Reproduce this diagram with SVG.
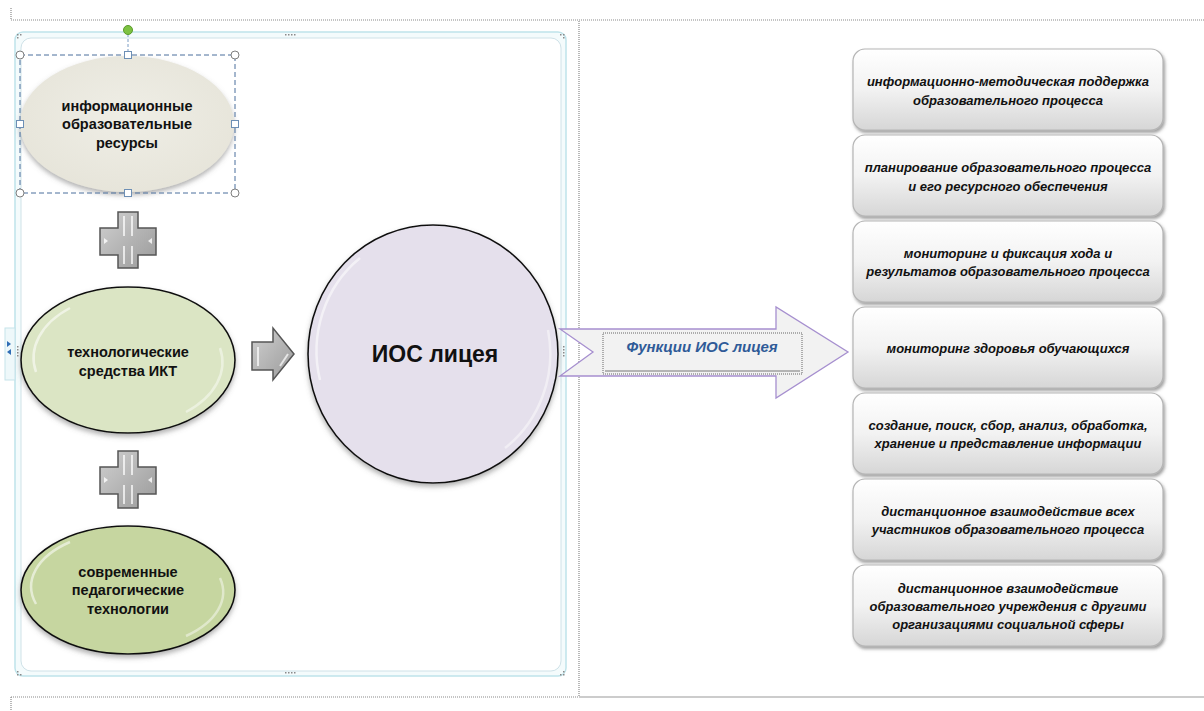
<svg xmlns="http://www.w3.org/2000/svg" width="1204" height="711" viewBox="0 0 1204 711">
<defs>
<style>
.dot{stroke:#8a8a8a;stroke-width:1.2;stroke-dasharray:1 1;fill:none}
.et{font-family:"Liberation Sans",Arial,sans-serif;font-weight:bold;font-size:14.5px;fill:#111;text-anchor:middle}
.bt{font-family:"Liberation Sans",Arial,sans-serif;font-weight:bold;font-style:italic;font-size:13px;fill:#111;text-anchor:middle}
.box{fill:url(#gBox);stroke:#b5b5b5;stroke-width:1.2;filter:url(#sh)}
.plus{fill:url(#gPlus);stroke:#555;stroke-width:1.5}
.hl{fill:none;stroke:#fff;stroke-width:2;opacity:.7}
.hdl{fill:#fff;stroke:#7f7f7f;stroke-width:1}
.sq{fill:#fff;stroke:#6d8fb5;stroke-width:1}
</style>
<linearGradient id="gBox" x1="0" y1="0" x2="0" y2="1">
<stop offset="0" stop-color="#ffffff"/><stop offset="0.5" stop-color="#f2f2f2"/><stop offset="1" stop-color="#d6d6d6"/>
</linearGradient>
<linearGradient id="gPlus" x1="0" y1="0" x2="1" y2="1">
<stop offset="0" stop-color="#d0d0d0"/><stop offset="1" stop-color="#9a9a9a"/>
</linearGradient>
<radialGradient id="gE1" cx="0.5" cy="0.45" r="0.6">
<stop offset="0" stop-color="#efeee6"/><stop offset="1" stop-color="#e6e4d9"/>
</radialGradient>
<filter id="sh" x="-10%" y="-10%" width="125%" height="130%">
<feDropShadow dx="1.5" dy="2.5" stdDeviation="1.8" flood-color="#555" flood-opacity="0.55"/>
</filter>
<filter id="sh2" x="-10%" y="-10%" width="125%" height="130%">
<feDropShadow dx="0" dy="3" stdDeviation="2.5" flood-color="#666" flood-opacity="0.5"/>
</filter>
</defs>
<rect x="0" y="0" width="1204" height="711" fill="#fff"/>

<!-- page guide lines -->
<g id="page">
<line class="dot" x1="11" y1="20" x2="1204" y2="20"/>
<line class="dot" x1="11" y1="8" x2="11" y2="20"/>
<line class="dot" x1="579" y1="21" x2="579" y2="697"/>
<line class="dot" x1="11" y1="697" x2="579" y2="697"/>
<line x1="579" y1="697" x2="1204" y2="697" stroke="#9a9a9a" stroke-width="1.2"/>
<line class="dot" x1="11" y1="697" x2="11" y2="711"/>
</g>

<!-- SmartArt frame -->
<g id="frame">
<rect x="15" y="32" width="551" height="644" rx="8" fill="#f4fbfc" stroke="#bfe3ea" stroke-width="1.5"/>
<rect x="21" y="38" width="540" height="633" rx="10" fill="#fff" stroke="#cfe2e8" stroke-width="1"/>
<g fill="#8a8a8a">
<rect x="285" y="34" width="1.5" height="1.5"/><rect x="288" y="34" width="1.5" height="1.5"/><rect x="291" y="34" width="1.5" height="1.5"/><rect x="294" y="34" width="1.5" height="1.5"/>
<rect x="285" y="672" width="1.5" height="1.5"/><rect x="288" y="672" width="1.5" height="1.5"/><rect x="291" y="672" width="1.5" height="1.5"/><rect x="294" y="672" width="1.5" height="1.5"/>
<rect x="17" y="34" width="1.5" height="1.5"/><rect x="20" y="34" width="1.5" height="1.5"/><rect x="17" y="37" width="1.5" height="1.5"/>
<rect x="560" y="34" width="1.5" height="1.5"/><rect x="563" y="34" width="1.5" height="1.5"/><rect x="563" y="37" width="1.5" height="1.5"/>
<rect x="17" y="671" width="1.5" height="1.5"/><rect x="17" y="674" width="1.5" height="1.5"/><rect x="20" y="674" width="1.5" height="1.5"/>
<rect x="563" y="671" width="1.5" height="1.5"/><rect x="560" y="674" width="1.5" height="1.5"/><rect x="563" y="674" width="1.5" height="1.5"/>
<rect x="563" y="346" width="1.5" height="1.5"/><rect x="563" y="349" width="1.5" height="1.5"/><rect x="563" y="352" width="1.5" height="1.5"/><rect x="563" y="355" width="1.5" height="1.5"/>
<rect x="17" y="346" width="1.5" height="1.5"/><rect x="17" y="349" width="1.5" height="1.5"/><rect x="17" y="352" width="1.5" height="1.5"/><rect x="17" y="355" width="1.5" height="1.5"/>
</g>
<rect x="5" y="328" width="10" height="52" fill="#eef8fa" stroke="#c6e3ea" stroke-width="1"/>
<polygon points="7,341 11,344 7,347" fill="#2f6db5"/>
<polygon points="11,349 7,352 11,355" fill="#2f6db5"/>
</g>

<!-- node 1 -->
<g id="node-resources">
<ellipse cx="127" cy="124" rx="107" ry="68" fill="url(#gE1)" filter="url(#sh2)"/>
<text class="et" x="127" y="111">информационные</text>
<text class="et" x="127" y="129">образовательные</text>
<text class="et" x="127" y="148">ресурсы</text>
<!-- selection -->
<rect x="20" y="55" width="215" height="138" fill="none" stroke="#4a6f9c" stroke-width="1" stroke-dasharray="5 3"/>
<line x1="128" y1="34" x2="128" y2="55" stroke="#7a9cc4" stroke-width="1" stroke-dasharray="3 2"/>
<circle cx="128" cy="30" r="4.5" fill="#7dc242" stroke="#5a9a2a" stroke-width="1"/>
<circle class="hdl" cx="20" cy="55" r="4"/><circle class="hdl" cx="235" cy="55" r="4"/>
<circle class="hdl" cx="20" cy="193" r="4"/><circle class="hdl" cx="235" cy="193" r="4"/>
<rect class="sq" x="124.5" y="51.5" width="7" height="7"/><rect class="sq" x="124.5" y="189.5" width="7" height="7"/>
<rect class="sq" x="16.5" y="120.5" width="7" height="7"/><rect class="sq" x="231.5" y="120.5" width="7" height="7"/>
</g>

<!-- plus 1 -->
<g id="plus-1">
<path class="plus" d="M118,212 H138 V228 H156 V255 H138 V268 H118 V255 H100 V228 H118 Z"/>
<path class="hl" d="M124,216 V236 M124,246 V264 M132,216 V236 M132,246 V264"/>
<polygon points="104,238 108,241 104,244" fill="#fff" opacity=".8"/>
<polygon points="152,238 148,241 152,244" fill="#fff" opacity=".8"/>
</g>

<!-- node 2 -->
<g id="node-ict">
<ellipse cx="128" cy="360" rx="107" ry="73" fill="#dbe5c4" stroke="#111" stroke-width="1.6" filter="url(#sh2)"/>
<path d="M36,372 A98,64 0 0 1 70,308" fill="none" stroke="#fff" stroke-width="2.5" opacity=".55"/>
<path d="M220,348 A98,64 0 0 1 186,412" fill="none" stroke="#fff" stroke-width="2.5" opacity=".45"/>
<text class="et" x="128" y="357">технологические</text>
<text class="et" x="128" y="376">средства ИКТ</text>
</g>

<!-- plus 2 -->
<g id="plus-2">
<path class="plus" d="M118,451 H138 V467 H156 V494 H138 V508 H118 V494 H100 V467 H118 Z"/>
<path class="hl" d="M124,455 V475 M124,485 V504 M132,455 V475 M132,485 V504"/>
<polygon points="104,477 108,480 104,483" fill="#fff" opacity=".8"/>
<polygon points="152,477 148,480 152,483" fill="#fff" opacity=".8"/>
</g>

<!-- node 3 -->
<g id="node-pedtech">
<ellipse cx="128" cy="590" rx="107" ry="64" fill="#c6d6a0" stroke="#111" stroke-width="1.6" filter="url(#sh2)"/>
<path d="M36,604 A98,56 0 0 1 70,542" fill="none" stroke="#fff" stroke-width="2.5" opacity=".55"/>
<path d="M220,578 A98,56 0 0 1 186,636" fill="none" stroke="#fff" stroke-width="2.5" opacity=".45"/>
<text class="et" x="128" y="577">современные</text>
<text class="et" x="128" y="595">педагогические</text>
<text class="et" x="128" y="614">технологии</text>
</g>

<!-- connectors -->
<g id="connectors">
<g id="arrow-small">
<path d="M252,342 H273 V328 L294,354 L273,380 V370 H252 Z" fill="url(#gPlus)" stroke="#555" stroke-width="1.5"/>
<path d="M258,347 V366" stroke="#fff" stroke-width="2" opacity=".7"/>
<path d="M288,354 L280,366" stroke="#fff" stroke-width="2" opacity=".7"/>
</g>
<g id="arrow-big">
<path d="M560,329 H776 V307 L848,352 L776,398 V376 H560 L593,352 Z" fill="#f2f2f2" stroke="#a68fcf" stroke-width="1.3"/>
</g>
</g>

<!-- central node -->
<g id="node-ios">
<ellipse cx="433" cy="354" rx="125" ry="129" fill="#e5e0ec" stroke="#111" stroke-width="1.6" filter="url(#sh2)"/>
<path d="M320,380 A113,118 0 0 1 360,258" fill="none" stroke="#fff" stroke-width="2.5" opacity=".55"/>
<path d="M548,330 A113,118 0 0 1 505,448" fill="none" stroke="#fff" stroke-width="2.5" opacity=".45"/>
<text x="435" y="362" font-family="'Liberation Sans',Arial,sans-serif" font-weight="bold" font-size="23" fill="#111" text-anchor="middle">ИОС лицея</text>
</g>

<!-- label box on arrow -->
<g id="label-functions">
<rect x="603" y="333" width="199" height="41" fill="#f2f2f2" stroke="#666" stroke-width="1" stroke-dasharray="1 1"/>
<line x1="605" y1="371" x2="800" y2="371" stroke="#777" stroke-width="1"/>
<text x="702" y="352" font-family="'Liberation Sans',Arial,sans-serif" font-weight="bold" font-style="italic" font-size="15" fill="#2f5b98" text-anchor="middle">Функции ИОС  лицея</text>
</g>

<!-- function boxes -->
<g id="func-1">
<rect class="box" x="853" y="49" width="310" height="81" rx="12"/>
<text class="bt" x="1008" y="86">информационно-методическая поддержка</text>
<text class="bt" x="1008" y="105">образовательного процесса</text>
</g>
<g id="func-2">
<rect class="box" x="853" y="135" width="310" height="81" rx="12"/>
<text class="bt" x="1008" y="172">планирование образовательного процесса</text>
<text class="bt" x="1008" y="191">и его ресурсного  обеспечения</text>
</g>
<g id="func-3">
<rect class="box" x="853" y="221" width="310" height="81" rx="12"/>
<text class="bt" x="1008" y="258">мониторинг и фиксация хода и</text>
<text class="bt" x="1008" y="276">результатов образовательного процесса</text>
</g>
<g id="func-4">
<rect class="box" x="853" y="307" width="310" height="81" rx="12"/>
<text class="bt" x="1008" y="353">мониторинг  здоровья обучающихся</text>
</g>
<g id="func-5">
<rect class="box" x="853" y="393" width="310" height="81" rx="12"/>
<text class="bt" x="1008" y="430">создание, поиск, сбор, анализ, обработка,</text>
<text class="bt" x="1008" y="448">хранение и представление  информации</text>
</g>
<g id="func-6">
<rect class="box" x="853" y="479" width="310" height="81" rx="12"/>
<text class="bt" x="1008" y="516">дистанционное взаимодействие  всех</text>
<text class="bt" x="1008" y="534">участников образовательного процесса</text>
</g>
<g id="func-7">
<rect class="box" x="853" y="565" width="310" height="81" rx="12"/>
<text class="bt" x="1008" y="593">дистанционное взаимодействие</text>
<text class="bt" x="1008" y="611">образовательного учреждения с другими</text>
<text class="bt" x="1008" y="629">организациями социальной сферы</text>
</g>
</svg>
